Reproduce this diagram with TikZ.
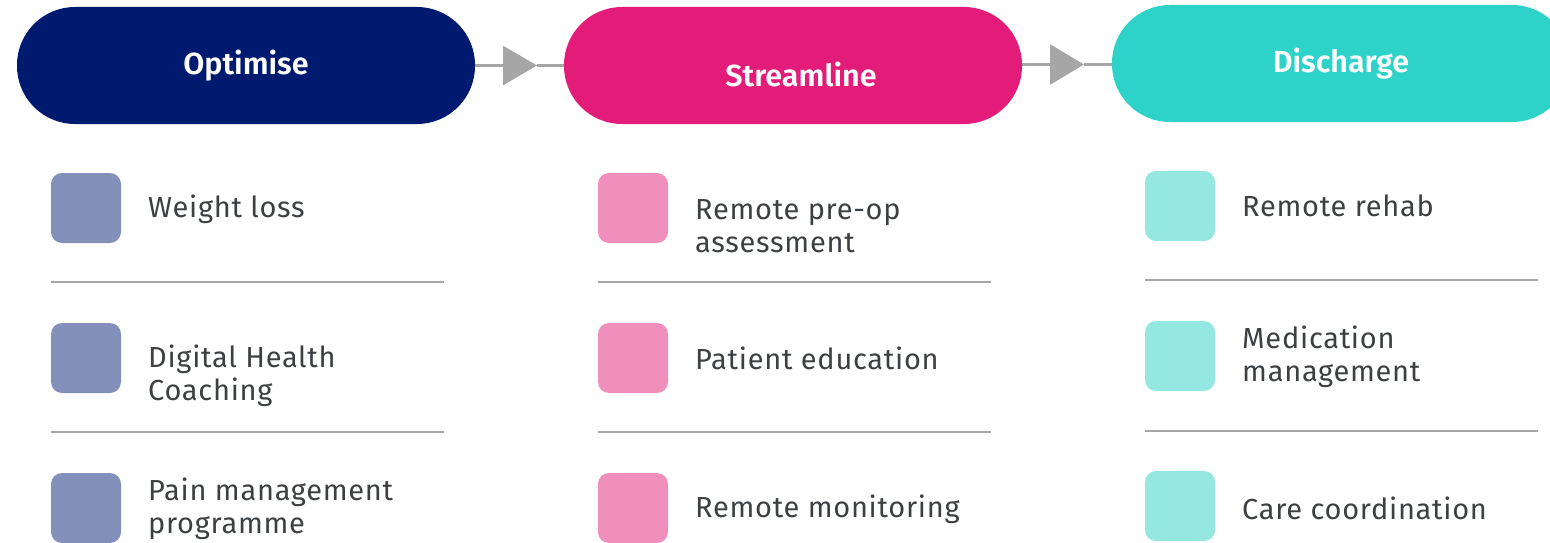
\documentclass[tikz,border=0pt]{standalone}
\usepackage{fontspec}
\setmainfont{Fira Sans}
\newfontfamily\headfont{Fira Sans SemiBold}
\newfontfamily\itemfont{Fira Sans}[LetterSpace=2.5]
\usetikzlibrary{arrows.meta}

\definecolor{optblue}{HTML}{001A70}
\definecolor{strpink}{HTML}{E31C79}
\definecolor{disteal}{HTML}{2DD3C9}
\definecolor{optlight}{HTML}{8290BA}
\definecolor{strlight}{HTML}{F08EBC}
\definecolor{dislight}{HTML}{94E8E1}
\definecolor{textgrey}{HTML}{3D4043}
\definecolor{linkgrey}{HTML}{A6A6A6}

\tikzset{
  pill/.style={rectangle, rounded corners=58pt, minimum width=458pt, minimum height=117pt, inner sep=0pt},
  head/.style={text=white, font=\fontsize{30.5}{34}\headfont},
  tile/.style={rectangle, rounded corners=11pt, minimum size=70pt, inner sep=0pt},
  item/.style={anchor=west, inner sep=0pt, align=left, text=textgrey, font=\fontsize{29}{33.5}\itemfont},
  link/.style={draw=linkgrey, line width=3pt},
  sep/.style={draw=linkgrey, line width=2pt},
}

\begin{document}
\begin{tikzpicture}[x=1pt, y=-1pt]
    \useasboundingbox (0,0) rectangle (1550,543);
    \clip (0,0) rectangle (1550,543);

    % the three stages
    \node (opt) at (246,65.5) [pill, fill=optblue] {};
    \node (stream) at (793,65.5) [pill, fill=strpink] {};
    \node (dis) at (1341,63.5) [pill, fill=disteal] {};

    \node (optlabel) at (opt) [head] {Optimise};
    \node (streamlabel) at ([xshift=8pt, yshift=-9pt]stream.center) [head] {Streamline};
    \node (dislabel) at (dis) [head] {Discharge};

    \coordinate (tip1) at (537,65.5);
    \coordinate (tip2) at (1084,64.5);
    \draw[link, -{Triangle[length=34pt, width=39pt]}] (opt.east) -- (tip1);
    \draw[link] (tip1) -- (stream.west);
    \draw[link, -{Triangle[length=34pt, width=40pt]}] (stream.east |- tip2) -- (tip2);
    \draw[link] (tip2) -- (dis.west |- tip2);

    % Optimise column
    \node (sq11) at (86,208) [tile, fill=optlight] {};
    \node (sq12) at (86,358) [tile, fill=optlight] {};
    \node (sq13) at (86,508) [tile, fill=optlight] {};
    \node (t11) at (148,209) [item] {Weight loss};
    \node (t12) at (148,376) [item] {Digital Health\\Coaching};
    \node (t13) at (148,509) [item] {Pain management\\programme};

    % Streamline column
    \node (sq21) at (633,208) [tile, fill=strlight] {};
    \node (sq22) at (633,358) [tile, fill=strlight] {};
    \node (sq23) at (633,508) [tile, fill=strlight] {};
    \node (t21) at (695,226) [item] {Remote pre-op\\assessment};
    \node (t22) at (695,358) [item] {Patient education};
    \node (t23) at (695,509) [item] {Remote monitoring};

    % Discharge column
    \node (sq31) at (1180,206) [tile, fill=dislight] {};
    \node (sq32) at (1180,356) [tile, fill=dislight] {};
    \node (sq33) at (1180,506) [tile, fill=dislight] {};
    \node (t31) at (1242,206) [item] {Remote rehab};
    \node (t32) at (1242,357) [item] {Medication\\management};
    \node (t33) at (1242,508) [item] {Care coordination};

    % rules between the rows
    \foreach \x/\ya/\yb in {51/282/432, 598/282/432, 1145/280/431} {
        \draw[sep] (\x,\ya) --++ (393,0);
        \draw[sep] (\x,\yb) --++ (393,0);
    }

\end{tikzpicture}
\end{document}
